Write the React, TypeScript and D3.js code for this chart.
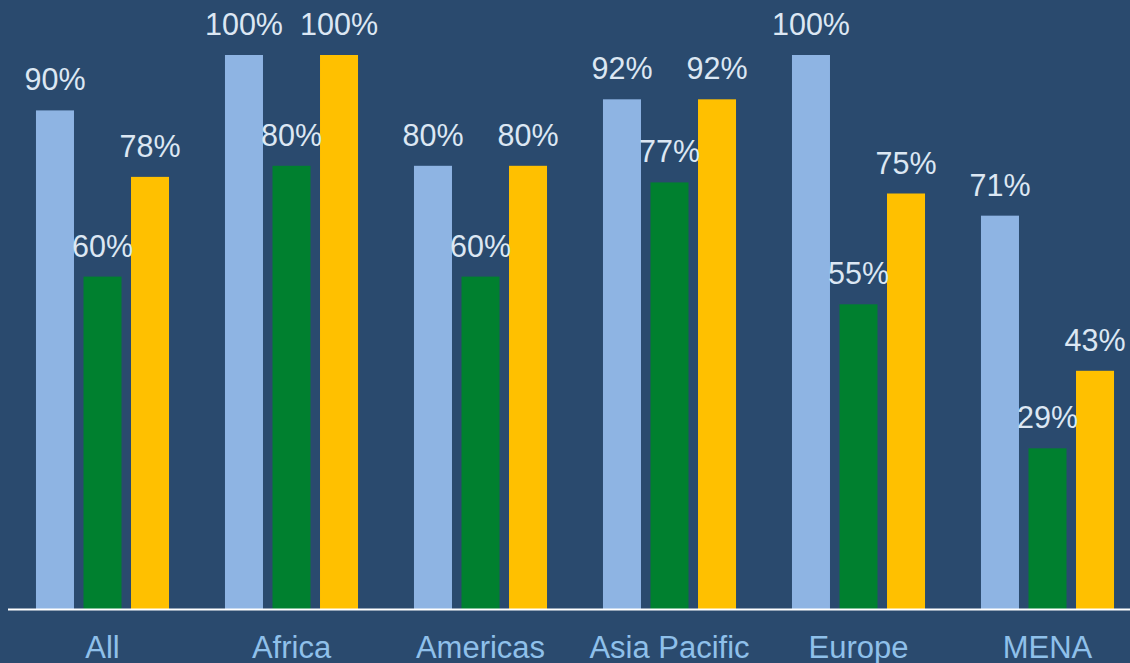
import React from "react";
import * as d3 from "d3";

const categories = ["All", "Africa", "Americas", "Asia Pacific", "Europe", "MENA"];
const seriesNames = ["s1", "s2", "s3"];
const series1 = [90, 100, 80, 92, 100, 71];
const series2 = [60, 80, 60, 77, 55, 29];
const series3 = [78, 100, 80, 92, 75, 43];
const colors = ["#8EB4E3", "#00802F", "#FFC000"];

export default function App() {
  const W = 1130, H = 663;
  const baseY = 609;
  const x0 = d3.scaleBand<string>().domain(categories).range([8, 1142]).paddingInner(0.296).paddingOuter(0.148);
  const x1 = d3.scaleBand<string>().domain(seriesNames).range([0, x0.bandwidth()]).paddingInner(0.2).paddingOuter(0);
  const y = d3.scaleLinear().domain([0, 100]).range([baseY, 55]);
  const data = [series1, series2, series3];
  return (
    <svg width={W} height={H} style={{ position: "absolute", left: 0, top: 0, display: "block" }}
      fontFamily="'Liberation Sans', Arial, sans-serif">
      <rect x={0} y={0} width={W} height={H} fill="#2A4A6E" />
      {categories.map((c, i) => (
        <g key={c} transform={`translate(${x0(c)},0)`}>
          {seriesNames.map((s, j) => {
            const v = data[j][i];
            const bx = x1(s)!;
            return (
              <g key={s}>
                <rect x={bx} y={y(v)} width={x1.bandwidth()} height={baseY - y(v)} fill={colors[j]} />
              </g>
            );
          })}
        </g>
      ))}
      {categories.map((c, i) => (
        <g key={c + "l"} transform={`translate(${x0(c)},0)`}>
          {seriesNames.map((s, j) => {
            const v = data[j][i];
            const bx = x1(s)!;
            return (
              <text key={s} x={bx + x1.bandwidth() / 2} y={y(v) - 20} textAnchor="middle" fontSize={30.5} fill="#DCE7F3">
                {v}%
              </text>
            );
          })}
        </g>
      ))}
      <line x1={8} x2={W} y1={baseY + 0.5} y2={baseY + 0.5} stroke="#FFFFFF" strokeWidth={2} />
      {categories.map((c) => (
        <text key={c + "c"} x={x0(c)! + x0.bandwidth() / 2} y={658} textAnchor="middle" fontSize={31} fill="#8FC0EA">
          {c}
        </text>
      ))}
    </svg>
  );
}
